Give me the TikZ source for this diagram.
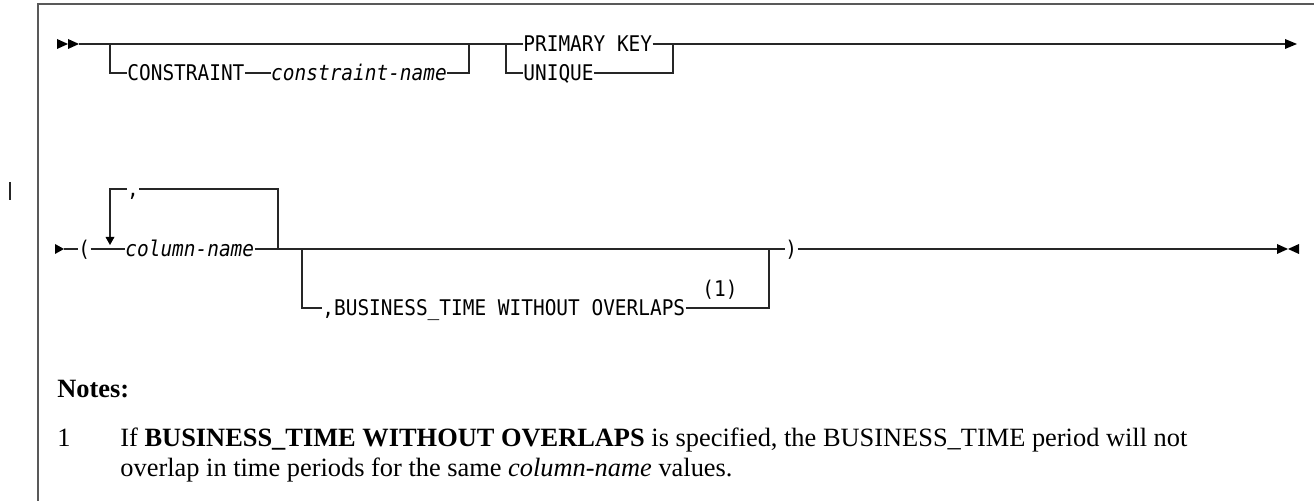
\documentclass[tikz,border=0pt]{standalone}
\usepackage{fontspec}
\setmainfont{Liberation Serif}
\newfontfamily\rrfont[FakeStretch=0.9]{DejaVu Sans Mono}
\usetikzlibrary{positioning}

\begin{document}
\begin{tikzpicture}[
    x=0.5pt, y=-0.5pt,
    rail/.style={draw=black!85, line width=0.6pt},
    kw/.style={font=\rrfont\fontsize{10.8}{13}\selectfont, inner sep=0pt, anchor=west, text height=7.87pt, text depth=0pt},
    var/.style={kw, font=\rrfont\fontsize{10.8}{13}\selectfont\itshape},
    note/.style={font=\fontsize{13.2}{15}\selectfont, inner sep=0pt, anchor=base west}
]
\useasboundingbox (0,0) rectangle (1314,501);

% Rahmen und Änderungsbalken
\draw[black!65, line width=0.9pt] (1314,4) -- (38,4) -- (38,501);
\draw[black!85, line width=0.8pt] (10,182) -- (10,200);

% Zeile 1
\foreach \x in {57,68} {
    \fill[black] (\x,39) -- ++(11,5) -- ++(-11,5) -- cycle;
}
\coordinate (r1s) at (79,44);
\coordinate (r1e) at (1285,44);
\coordinate (ja) at (110,44);
\coordinate (jb) at (469,44);
\coordinate (jc) at (506,44);
\coordinate (jd) at (673,44);
\node[kw] (cons) at (127,73) {CONSTRAINT};
\node[var, right=13pt of cons] (consname) {constraint-name};
\node[kw] (pk) at (523,44) {PRIMARY KEY};
\node[kw] (uniq) at (523,73) {UNIQUE};

\draw[rail] (r1s) -- (pk.west);
\draw[rail] (pk.east) -- (r1e);
\fill[black] (1285,39) -- (1297,44) -- (1285,49) -- cycle;
\draw[rail] (ja) |- (cons.west);
\draw[rail] (cons.east) -- (consname.west);
\draw[rail] (consname.east) -| (jb);
\draw[rail] (jc) |- (uniq.west);
\draw[rail] (uniq.east) -| (jd);

% Zeile 2
\fill[black] (55,244) -- (64,249) -- (55,254) -- cycle;
\coordinate (r2s) at (64,249);
\coordinate (r2e) at (1277,249);
\coordinate (lpR) at (278,249);
\coordinate (lpL) at (110,237);
\coordinate (je) at (302,249);
\coordinate (jf) at (769,249);
\node[kw] (lpar) at (78,249) {(};
\node[var] (colname) at (125,249) {column-name};
\node[kw, anchor=center] (comma) at (133,189) {,};
\node[kw] (rpar) at (785,249) {)};

\draw[rail] (r2s) -- (lpar.west);
\draw[rail] (lpar.east) -- (colname.west);
\draw[rail] (colname.east) -- (rpar.west);
\draw[rail] (rpar.east) -- (r2e);
\fill[black] (1277,244) -- (1288,249) -- (1277,254) -- cycle;
\fill[black] (1299,244) -- (1288,249) -- (1299,254) -- cycle;

% Schleife
\draw[rail] (lpR) |- (comma.east);
\draw[rail] (comma.west) -| (lpL);
\fill[black] (105.5,237) -- (114.5,237) -- (110,245) -- cycle;

% Zeile 3
\node[kw] (btwo) at (322,308) {,BUSINESS\_TIME WITHOUT OVERLAPS};
\node[kw, anchor=center] (fn) at (720,289) {(1)};
\draw[rail] (je) |- (btwo.west);
\draw[rail] (btwo.east) -| (jf);

% Anmerkungen
\node[note] (notes) at (57,398) {\bfseries Notes:};
\node[note] (n1) at (57,447) {1};
\node[note] (n1a) at (120,447) {If \textbf{BUSINESS\_TIME WITHOUT OVERLAPS} is specified, the BUSINESS\_TIME period will not};
\node[note] (n1b) at (120,477) {overlap in time periods for the same \textit{column-name} values.};
\end{tikzpicture}
\end{document}
